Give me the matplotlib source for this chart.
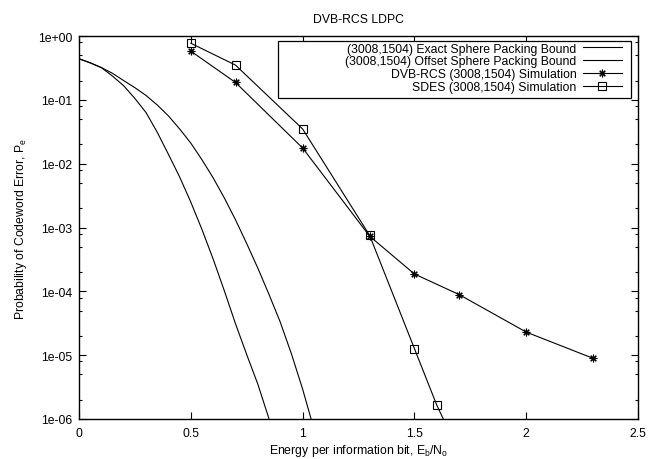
import matplotlib
matplotlib.use('Agg')
import matplotlib.pyplot as plt
from matplotlib.patches import Rectangle
from matplotlib.ticker import FixedLocator, NullFormatter

plt.rcParams['font.family'] = ['Liberation Sans', 'DejaVu Sans']
plt.rcParams['mathtext.fontset'] = 'custom'
plt.rcParams['mathtext.rm'] = 'Liberation Sans'
plt.rcParams['mathtext.it'] = 'Liberation Sans:italic'

# 曲线数据
ebno_exact = [0.0, 0.05, 0.1, 0.15, 0.2, 0.25, 0.3, 0.35, 0.4, 0.45, 0.5,
              0.55, 0.6, 0.65, 0.7, 0.75, 0.8, 0.85, 0.9]
pe_exact = [4.4e-1, 3.8e-1, 3.2e-1, 2.35e-1, 1.66e-1, 1.05e-1, 6.3e-2, 3.1e-2,
            1.4e-2, 6.2e-3, 2.5e-3, 9.3e-4, 3.2e-4, 1.02e-4, 3.1e-5, 1.02e-5,
            3.5e-6, 1.0e-6, 2.5e-7]

ebno_offset = [0.0, 0.05, 0.1, 0.15, 0.2, 0.25, 0.3, 0.35, 0.4, 0.45, 0.5,
               0.55, 0.6, 0.65, 0.7, 0.75, 0.8, 0.85, 0.9, 0.95, 1.0, 1.05]
pe_offset = [4.4e-1, 3.8e-1, 3.2e-1, 2.6e-1, 2.0e-1, 1.55e-1, 1.17e-1, 8.3e-2,
             5.6e-2, 3.5e-2, 2.1e-2, 1.15e-2, 6.0e-3, 2.9e-3, 1.32e-3, 5.6e-4,
             2.3e-4, 8.9e-5, 3.3e-5, 1.05e-5, 2.95e-6, 7.1e-7]

ebno_dvb = [0.5, 0.7, 1.0, 1.3, 1.5, 1.7, 2.0, 2.3]
pe_dvb = [5.8e-1, 1.87e-1, 1.76e-2, 7.3e-4, 1.87e-4, 8.9e-5, 2.3e-5, 8.9e-6]

ebno_sdes = [0.5, 0.7, 1.0, 1.3, 1.5, 1.6, 1.7]
pe_sdes = [7.7e-1, 3.5e-1, 3.5e-2, 7.5e-4, 1.27e-5, 1.65e-6, 3.0e-7]

labels = ['(3008,1504) Exact Sphere Packing Bound',
          '(3008,1504) Offset Sphere Packing Bound',
          'DVB-RCS (3008,1504) Simulation',
          'SDES (3008,1504) Simulation']

xticks = [0, 0.5, 1, 1.5, 2, 2.5]
xtick_labels = ['0', '0.5', '1', '1.5', '2', '2.5']
yticks = [1e0, 1e-1, 1e-2, 1e-3, 1e-4, 1e-5, 1e-6]
ytick_labels = ['1e+00', '1e-01', '1e-02', '1e-03', '1e-04', '1e-05', '1e-06']

fs = 8.8
fig = plt.figure(figsize=(6.62, 4.6), dpi=100)
ax = fig.add_axes([79 / 662, 1 - 420 / 460, 559 / 662, 383 / 460])

ax.plot(ebno_exact, pe_exact, color='black', lw=0.8, label=labels[0])
ax.plot(ebno_offset, pe_offset, color='black', lw=0.8, label=labels[1])
ax.plot(ebno_dvb, pe_dvb, color='black', lw=0.8, marker=(8, 2, 0), ms=5.5,
        mew=0.8, label=labels[2])
ax.plot(ebno_sdes, pe_sdes, color='black', lw=0.8, marker='s', ms=5.5,
        mfc='none', mew=0.8, label=labels[3])

ax.set_yscale('log')
ax.set_xlim(0, 2.5)
ax.set_ylim(1e-6, 1e0)

ax.xaxis.set_major_locator(FixedLocator(xticks))
ax.set_xticklabels(xtick_labels)
ax.yaxis.set_major_locator(FixedLocator(yticks))
ax.set_yticklabels(ytick_labels)
minor = [m * 10.0 ** e for e in range(-6, 0) for m in (2, 5, 8)]
ax.yaxis.set_minor_locator(FixedLocator(minor))
ax.yaxis.set_minor_formatter(NullFormatter())

ax.tick_params(which='both', direction='in', top=True, right=True,
               labelsize=fs, width=0.8)
ax.tick_params(which='major', length=5)
ax.tick_params(which='minor', length=2.5)
ax.tick_params(axis='y', pad=5)
ax.tick_params(axis='x', pad=6)
for s in ax.spines.values():
    s.set_linewidth(1.0)

ax.set_title('DVB-RCS LDPC', fontsize=fs, pad=10)
ax.set_xlabel('Energy per information bit, E$_\\mathrm{b}$/N$_\\mathrm{o}$',
              fontsize=fs, labelpad=2)
ax.set_ylabel('Probability of Codeword Error, P$_\\mathrm{e}$', fontsize=fs,
              labelpad=6)

# 图例外框
box = Rectangle((0.356, 0.838), 0.9875 - 0.356, 0.9877 - 0.838,
                transform=ax.transAxes, facecolor='white', edgecolor='black',
                lw=0.9, zorder=4)
ax.add_patch(box)
leg = ax.legend(loc='upper right', bbox_to_anchor=(0.971, 0.983),
                frameon=False, markerfirst=False, fontsize=fs,
                handlelength=3.2, handletextpad=0.5, labelspacing=0.08,
                borderpad=0.0, borderaxespad=0.0)
leg.set_zorder(5)

fig.savefig('out.png', dpi=100)
